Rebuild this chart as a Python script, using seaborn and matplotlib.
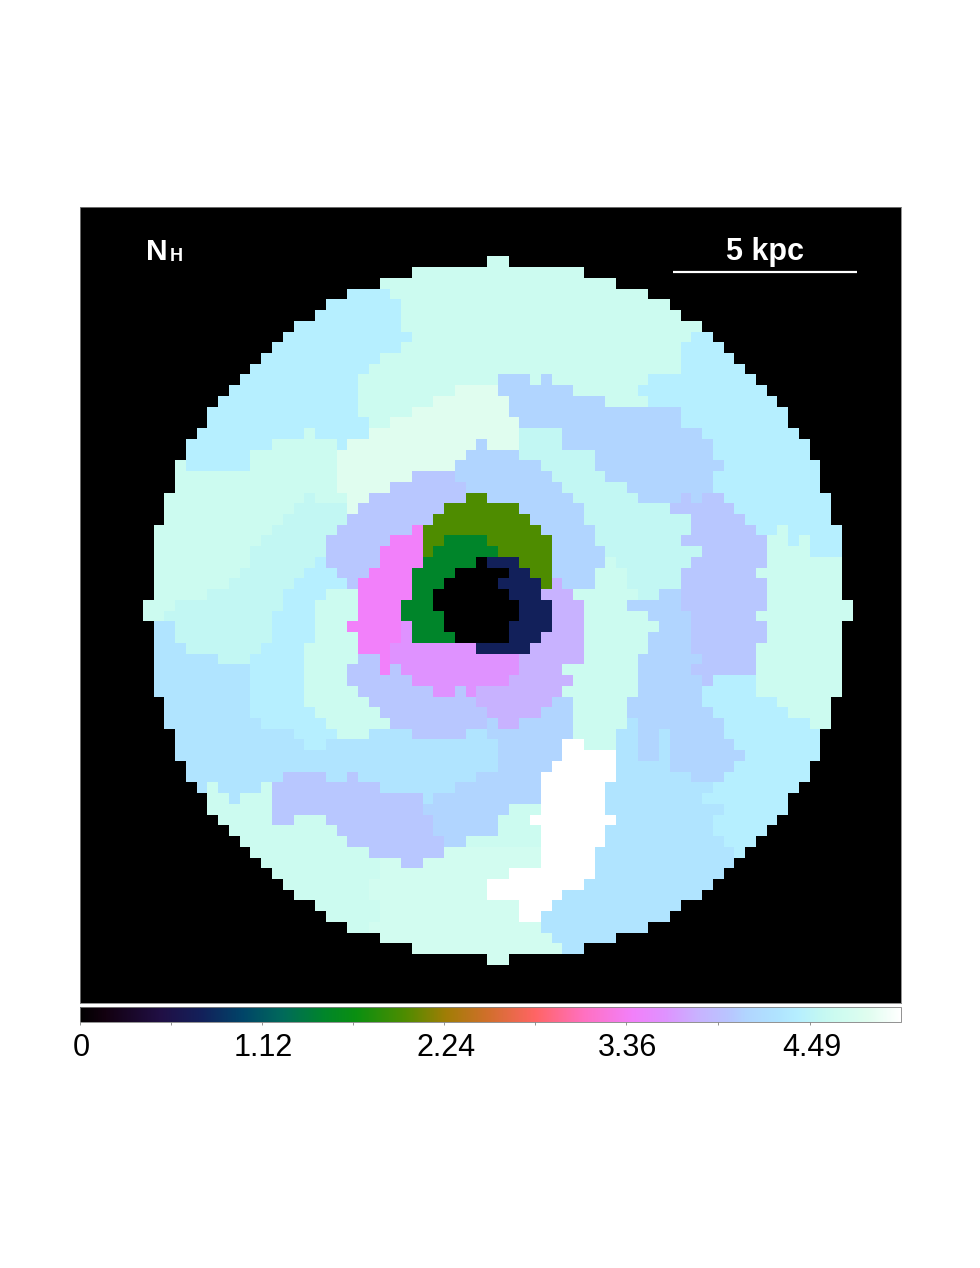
import numpy as np
import seaborn as sns
import matplotlib
matplotlib.use('Agg')
import matplotlib.pyplot as plt
from matplotlib.colors import LinearSegmentedColormap
from matplotlib.transforms import ScaledTranslation

sns.set_theme(style='white')
plt.rcParams['font.family'] = ['Liberation Sans', 'DejaVu Sans']

# N_H levels found in the map (one letter per level)
LEVELS = {'.': 0.0, 'n': 0.75, 'g': 1.5, 'o': 2.0, 'p': 3.4, 'm': 3.6, 'l': 3.8, 'v': 4.0,
          'w': 4.1, 'b': 4.3, 'c': 4.42, 't': 4.55, 'd': 4.65, 'e': 4.72, 'f': 4.85, 'W': 5.05}

# map rows, top to bottom: "<first column><level>" for each run, black elsewhere
MAP_ROWS = [
    "32d 34.",
    "25d 41.",
    "22d 44.",
    "19c 23d 47.",
    "17c 24d 49.",
    "16c 24d 50.",
    "14c 24d 52.",
    "13c 25d 51c 53.",
    "12c 24d 50c 54.",
    "11c 22d 50c 55.",
    "10c 21d 50c 56.",
    "9c 20d 33w 36d 37w 38d 47c 57.",
    "8c 20d 29f 33w 40d 46c 58.",
    "7c 20d 27f 34w 43d 47c 59.",
    "6c 20d 25f 34w 50c 60.",
    "6c 21d 23f 35w 50c 60.",
    "5c 15d 16c 21f 35t 39w 52c 61.",
    "4c 12d 18c 19f 31w 32f 35t 39w 53c 62.",
    "4c 10d 18f 30w 35t 42w 53c 62.",
    "3d 4c 10d 18f 29w 37t 42w 54c 63.",
    "3d 18f 25v 29w 38t 43w 53c 63.",
    "3d 18f 23v 30w 39t 45w 53c 63.",
    "2d 15t 16d 19f 21v 30o 32w 40t 46w 50v 51w 52v 54c 64.",
    "2d 14t 19f 20v 28o 35w 41t 49v 55c 64.",
    "2d 13t 19v 27o 36w 41t 51v 56c 64.",
    "1d 12t 18v 25p 26o 37w 42t 51v 57c 59d 60c 65.",
    "1d 11t 17v 23p 26o 28g 32o 38w 42t 50v 58d 60c 61d 62c 65.",
    "1d 10t 17v 22p 26o 27g 33o 38w 43t 52v 58d 62c 65.",
    "1d 10t 16c 17v 22p 26g 31. 32n 35o 38w 43d 44t 51v 58d 65.",
    "1d 9t 15c 18v 21p 25g 29. 34n 36o 38w 42d 45t 50v 57d 65.",
    "1d 8t 14c 19v 20p 25g 28. 33n 37o 38l 39w 42d 45t 50v 58d 65.",
    "1d 6t 13c 17d 20p 25g 27. 34n 37l 40d 46t 48w 50v 58d 65.",
    "0d 3t 13c 16d 20p 24g 27. 35n 38l 41d 45w 50v 58d 66.",
    "0d 2t 12c 16d 20p 24g 28. 35n 38l 41d 47w 51v 57d 66.",
    "1b 3t 12c 16d 19p 24m 25g 28. 34n 38l 41d 48w 51v 58d 65.",
    "1b 3t 12c 16d 20p 24m 25g 29. 34n 37l 41d 47w 51v 58d 65.",
    "1b 4t 11c 15d 20p 23m 31n 36l 41d 47w 51v 57d 65.",
    "1b 7t 10c 15d 20v 22p 23m 35l 41d 46w 52v 57d 65.",
    "1b 10c 15d 19v 22p 23v 24m 35l 39d 46w 51v 57d 65.",
    "1b 10c 15d 19v 25m 34l 40d 46w 52v 53c 57d 65.",
    "1b 10c 15d 20v 27m 29v 30m 31l 39d 46w 52c 57d 65.",
    "2b 10c 15d 21v 31l 38w 40d 45w 52c 59d 64.",
    "2b 10c 16d 22v 32l 37w 40d 45w 53c 60d 64.",
    "2b 11c 17d 23v 32w 33l 35w 40d 45b 46w 54c 62d 64.",
    "3b 14c 18d 21b 25v 30b 32w 40d 44b 46w 48b 49w 54c 63.",
    "3b 15c 17b 33w 39W 41d 44b 46w 48b 49w 55c 63.",
    "3b 33w 39W 44b 46w 48b 49w 56c 63.",
    "4b 33w 38W 44b 49w 55c 62.",
    "4b 13v 17b 19v 20b 31w 37W 44b 51w 54c 62.",
    "5b 6d 7b 11d 12v 22b 29w 37W 43b 53c 61.",
    "6d 8b 9d 12v 26b 27w 37W 43b 52c 60.",
    "6d 12v 26w 34d 37W 43b 54c 60.",
    "7d 12v 14d 17v 27w 33d 36W 44b 53c 59.",
    "8d 18v 27w 33d 37W 43b 53c 58.",
    "9d 19v 28w 30d 37W 43b 54c 57.",
    "10d 21v 28e 37W 42b 55c 56.",
    "11d 22e 24v 26e 37W 42b 55.",
    "12d 22e 34W 42b 54.",
    "13d 21e 32W 41b 53.",
    "14d 21e 32W 39b 52.",
    "16d 22e 35W 38b 50.",
    "17d 22e 35W 37b 49.",
    "19d 21e 37b 47.",
    "22e 38b 44.",
    "25e 39b 41.",
    "32e 34.",
]

# colour scale: value, colour
SCALE_VALUES = [0, 0.15, 0.5, 0.75, 1.0, 1.25, 1.5, 1.7, 2.0, 2.25, 2.5, 2.8, 3.1, 3.4, 3.6, 3.8,
                4.0, 4.1, 4.3, 4.42, 4.55, 4.65, 4.72, 4.85, 5.05]
SCALE_COLORS = ['#000000', '#12000f', '#200f45', '#12205a', '#004468', '#006a5a', '#00852a', '#0a8f10',
                '#4e8c00', '#a07d05', '#cf6f2a', '#ff6464', '#ff70c0', '#f280fa', '#df92ff', '#c8b2ff',
                '#b8c6ff', '#b1d5ff', '#b0e4ff', '#b6efff', '#c2f7f3', '#ccfbf0', '#d2fcf0', '#e0fdef',
                '#ffffff']
VMAX = 5.05

TICK_VALUES = [0, 1.12, 2.24, 3.36, 4.49]
TICK_LABELS = ['0', '1.12', '2.24', '3.36', '4.49']
MINOR_VALUES = [0.56, 1.68, 2.8, 3.925]


def decode_rows(rows, n_cols=66):
    grid = np.zeros((len(rows), n_cols))
    for i, row in enumerate(rows):
        tokens = row.split()
        for j, tok in enumerate(tokens):
            start = int(tok[:-1])
            end = int(tokens[j + 1][:-1]) if j + 1 < len(tokens) else n_cols
            grid[i, start:end] = LEVELS[tok[-1]]
    return grid


W, H = 980, 1268
fig = plt.figure(figsize=(W / 100, H / 100), dpi=100)
ax = fig.add_axes([80 / W, 1 - 1003 / H, 821 / W, 796 / H])
cax = fig.add_axes([80 / W, 1 - 1022 / H, 821 / W, 15 / H])

cmap = LinearSegmentedColormap.from_list(
    'nh', [(v / VMAX, c) for v, c in zip(SCALE_VALUES, SCALE_COLORS)], N=1024)

grid = decode_rows(MAP_ROWS)
sns.heatmap(grid, ax=ax, cmap=cmap, vmin=0, vmax=VMAX, xticklabels=False, yticklabels=False,
            cbar_ax=cax, cbar_kws={'orientation': 'horizontal'}, linewidths=0, rasterized=True)

# black margin round the 66x66 map
ax.set_facecolor('black')
ax.set_xlim(-5.86, 70.51)
ax.set_ylim(69.55, -4.6)
for sp in ax.spines.values():
    sp.set_visible(True)
    sp.set_color('#808080')
    sp.set_linewidth(0.6)

ax.text(0.0805, 0.9334, 'N', transform=ax.transAxes, color='white', fontsize=21.5, fontweight='bold',
        ha='left', va='baseline')
ax.text(0.1095, 0.9322, 'H', transform=ax.transAxes, color='white', fontsize=13, fontweight='bold',
        ha='left', va='baseline')
ax.text(0.8347, 0.934, '5 kpc', transform=ax.transAxes, color='white', fontsize=22,
        fontweight='bold', ha='center', va='baseline')
ax.plot([49.26, 66.42], [1.46, 1.46], color='white', lw=1.6, solid_capstyle='butt')

# colorbar
cbar = ax.collections[0].colorbar
cbar.set_ticks(TICK_VALUES, labels=TICK_LABELS)
cbar.ax.set_xticks(MINOR_VALUES, minor=True)
cbar.ax.tick_params(axis='x', which='both', bottom=True, length=2, width=0.6, color='#808080',
                    labelsize=22, labelcolor='black', pad=6)
shift = ScaledTranslation(1.5 / 100, 0, fig.dpi_scale_trans)
for lab in cbar.ax.get_xticklabels():
    lab.set_transform(lab.get_transform() + shift)
cbar.outline.set_visible(True)
cbar.outline.set_edgecolor('#808080')
cbar.outline.set_linewidth(0.6)

fig.savefig('out.png', dpi=100, facecolor='white')
